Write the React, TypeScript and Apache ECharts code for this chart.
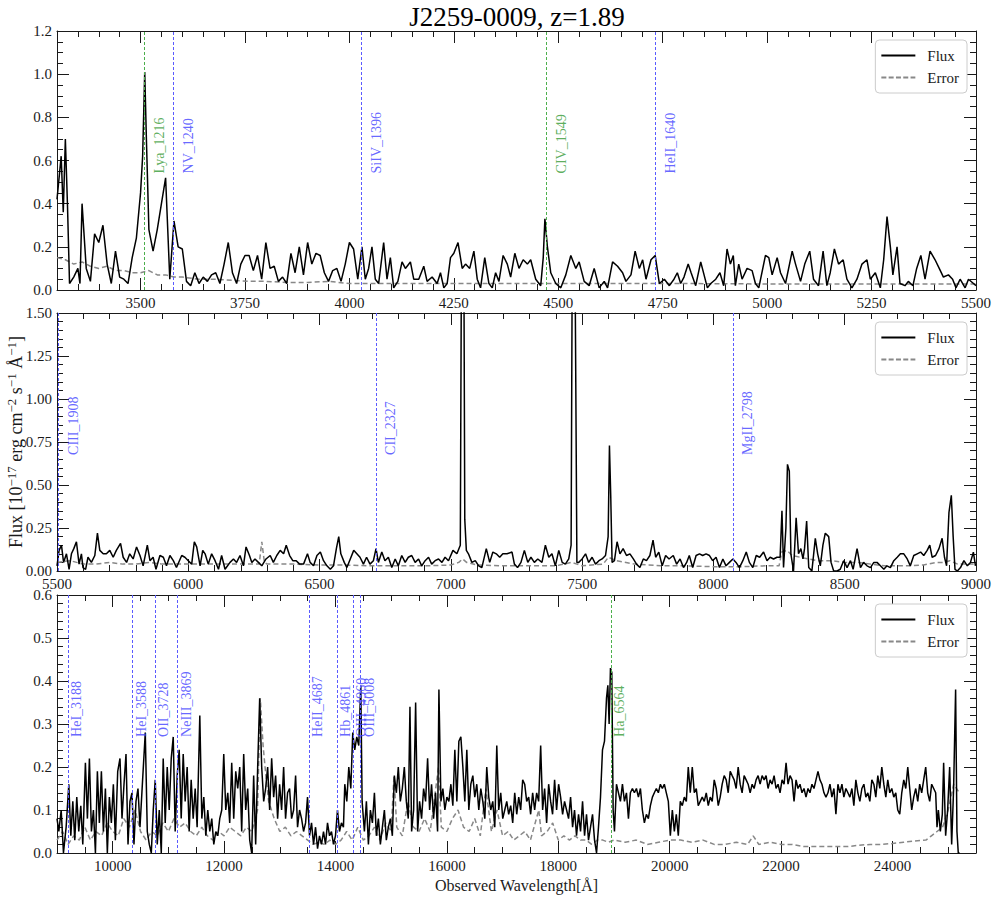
import React, { useEffect, useRef } from "react";
import * as echarts from "echarts";

// ---------------- data ----------------
const titleText = "J2259-0009, z=1.89";
const lineRedshift = 1.886;

const topXTicks = [3500, 3750, 4000, 4250, 4500, 4750, 5000, 5250, 5500];
const midXTicks = [5500, 6000, 6500, 7000, 7500, 8000, 8500, 9000];
const botXTicks = [10000, 12000, 14000, 16000, 18000, 20000, 22000, 24000];

const topLines: [string, number, string][] = [
  ["Lya_1216", 1216, "green"], ["NV_1240", 1240, "blue"], ["SiIV_1396", 1396, "blue"],
  ["CIV_1549", 1549, "green"], ["HeII_1640", 1640, "blue"],
];
const midLines: [string, number, string][] = [
  ["CIII_1908", 1908, "blue"], ["CII_2327", 2327, "blue"], ["MgII_2798", 2798, "blue"],
];
const botLines: [string, number, string][] = [
  ["HeI_3188", 3188, "blue"], ["HeI_3588", 3588, "blue"], ["OII_3728", 3728, "blue"],
  ["NeIII_3869", 3869, "blue"], ["HeII_4687", 4687, "blue"], ["Hb_4861", 4861, "blue"],
  ["OIII_4960", 4960, "blue"], ["OIII_5008", 5008, "blue"], ["Ha_6564", 6564, "green"],
];

const topFlux: [number, number][] = [
  [3300,0.42],[3310,0.62],[3315,0.36],[3320,0.70],[3325,0.40],[3330,0.03],[3340,0.06],[3350,0.10],[3355,0.03],[3360,0.40],
  [3370,0.10],[3380,0.04],[3390,0.26],[3400,0.22],[3410,0.30],[3420,0.12],[3430,0.03],[3440,0.18],[3450,0.06],[3460,0.05],
  [3470,0.03],[3480,0.15],[3490,0.24],[3500,0.45],[3505,0.62],[3510,1.01],[3514,0.70],[3520,0.28],[3530,0.18],[3540,0.28],
  [3550,0.40],[3560,0.52],[3570,0.05],[3580,0.32],[3590,0.20],[3600,0.19],[3610,0.04],[3620,0.02],[3630,0.08],[3640,0.03],
  [3650,0.06],[3660,0.04],[3670,0.07],[3680,0.08],[3690,0.03],[3700,0.12],[3710,0.22],[3720,0.08],[3730,0.03],[3740,0.12],
  [3750,0.16],[3760,0.16],[3770,0.09],[3780,0.16],[3790,0.05],[3800,0.22],[3810,0.10],[3820,0.11],[3830,0.04],[3840,0.06],
  [3850,0.03],[3860,0.17],[3870,0.08],[3880,0.20],[3890,0.07],[3900,0.22],[3910,0.12],[3920,0.17],[3930,0.16],[3940,0.08],
  [3950,0.04],[3960,0.09],[3970,0.10],[3980,0.04],[3990,0.12],[4000,0.22],[4010,0.19],[4020,0.05],
  [4030,0.20],[4038,0.05],[4046,0.10],[4054,0.20],[4062,0.05],[4070,0.03],[4082,0.22],[4090,0.05],[4098,0.15],[4106,0.01],
  [4116,0.04],[4126,0.13],[4134,0.10],[4146,0.13],[4154,0.05],[4166,0.05],[4178,0.11],[4186,0.04],[4198,0.06],[4210,0.03],
  [4218,0.08],[4226,0.01],[4234,0.03],[4242,0.15],[4250,0.17],[4260,0.22],[4270,0.10],[4278,0.12],[4288,0.10],[4298,0.18],
  [4306,0.05],[4314,0.01],[4324,0.15],[4334,0.03],[4342,0.01],[4350,0.08],[4358,0.04],[4368,0.16],[4378,0.12],[4386,0.06],
  [4396,0.17],[4406,0.10],[4416,0.14],[4426,0.12],[4434,0.14],[4446,0.05],[4458,0.02],[4464,0.15],[4468,0.33],[4474,0.20],
  [4482,0.08],[4494,0.03],[4506,0.01],[4518,0.07],[4530,0.16],[4542,0.10],[4550,0.13],[4562,0.04],[4574,0.02],[4586,0.10],
  [4598,0.01],[4610,0.04],[4618,0.01],[4630,0.13],[4642,0.11],[4654,0.08],[4662,0.04],[4674,0.07],[4684,0.18],[4694,0.10],
  [4702,0.14],[4710,0.05],[4722,0.14],[4732,0.16],[4742,0.03],[4754,0.05],[4766,0.02],
  [4777,0.05],[4785,0.08],[4793,0.03],[4801,0.06],[4811,0.12],[4818,0.08],[4829,0.02],[4841,0.13],[4849,0.07],[4857,0.01],
  [4865,0.03],[4877,0.05],[4887,0.08],[4896,0.02],[4904,0.19],[4912,0.12],[4919,0.16],[4924,0.02],[4932,0.12],[4940,0.05],
  [4952,0.10],[4964,0.09],[4972,0.03],[4980,0.01],[4996,0.16],[5004,0.15],[5012,0.07],[5024,0.15],[5032,0.08],[5044,0.03],
  [5060,0.18],[5068,0.12],[5080,0.04],[5090,0.12],[5102,0.18],[5111,0.05],[5123,0.02],[5134,0.18],[5143,0.02],[5151,0.08],
  [5161,0.19],[5171,0.12],[5182,0.14],[5191,0.05],[5203,0.01],[5215,0.05],[5227,0.12],[5239,0.14],[5247,0.05],[5259,0.08],
  [5271,0.01],[5279,0.14],[5287,0.34],[5295,0.20],[5301,0.07],[5311,0.20],[5318,0.03],[5330,0.02],[5338,0.04],[5349,0.02],
  [5358,0.10],[5368,0.16],[5378,0.05],[5390,0.18],[5402,0.14],[5412,0.10],[5422,0.06],[5434,0.07],[5444,0.05],[5452,0.01],
  [5462,0.05],[5474,0.01],[5482,0.05],[5494,0.03],[5500,0.02],
];

const topErr: [number, number][] = [
  [3300,0.15],[3320,0.14],[3340,0.12],[3360,0.13],[3380,0.11],[3400,0.10],[3420,0.11],[3440,0.09],[3460,0.09],[3480,0.08],
  [3500,0.08],[3520,0.09],[3540,0.07],[3560,0.07],[3580,0.06],[3600,0.06],[3640,0.05],[3680,0.05],[3720,0.045],[3760,0.04],
  [3800,0.04],[3850,0.035],[3900,0.035],[3950,0.04],[4000,0.03],[4100,0.03],[4200,0.03],[4300,0.03],[4400,0.03],[4500,0.03],
  [4600,0.03],[4700,0.03],[4800,0.03],[5000,0.028],[5200,0.028],[5500,0.028],
];

const midFlux: [number, number][] = [
  [5500,0.03],[5508,0.12],[5517,0.15],[5525,0.05],[5536,0.10],[5546,0.01],[5555,0.10],[5564,0.13],[5574,0.17],[5584,0.04],
  [5593,0.10],[5599,0.02],[5609,0.01],[5618,0.08],[5631,0.05],[5644,0.09],[5654,0.22],[5663,0.12],[5676,0.10],[5688,0.10],
  [5701,0.12],[5714,0.08],[5726,0.12],[5742,0.16],[5752,0.08],[5765,0.05],[5777,0.10],[5790,0.07],[5803,0.14],[5816,0.09],
  [5828,0.03],[5844,0.15],[5854,0.06],[5866,0.08],[5877,0.01],[5892,0.09],[5905,0.08],[5917,0.03],[5930,0.09],[5943,0.06],
  [5955,0.02],[5975,0.09],[5987,0.08],[6000,0.06],[6013,0.04],[6023,0.17],[6032,0.14],[6045,0.03],[6055,0.12],[6064,0.10],
  [6076,0.04],[6089,0.10],[6102,0.06],[6115,0.01],[6127,0.09],[6140,0.01],[6159,0.05],[6172,0.07],[6184,0.05],[6197,0.09],
  [6210,0.03],[6220,0.14],[6233,0.09],[6242,0.05],[6254,0.07],[6267,0.05],[6280,0.03],[6296,0.07],[6312,0.09],[6324,0.05],
  [6337,0.09],[6350,0.12],[6363,0.10],[6373,0.15],[6386,0.09],[6398,0.06],[6411,0.06],[6424,0.04],[6439,0.04],[6454,0.10],
  [6464,0.05],[6477,0.03],[6490,0.09],[6503,0.11],[6515,0.06],[6528,0.03],[6541,0.01],[6553,0.03],[6564,0.13],[6573,0.20],
  [6581,0.10],[6594,0.05],[6604,0.02],[6617,0.07],[6630,0.12],[6642,0.10],
  [6654,0.08],[6667,0.04],[6679,0.08],[6692,0.04],[6705,0.06],[6715,0.13],[6724,0.05],[6737,0.11],[6749,0.06],[6762,0.08],
  [6775,0.02],[6788,0.07],[6800,0.03],[6813,0.09],[6826,0.05],[6838,0.08],[6851,0.09],[6864,0.05],[6877,0.07],[6889,0.03],
  [6902,0.06],[6915,0.08],[6927,0.04],[6940,0.06],[6953,0.07],[6966,0.05],[6978,0.08],[6991,0.06],[7008,0.12],[7023,0.10],
  [7036,0.15],[7042,2.5],[7048,2.5],[7053,0.30],[7059,0.12],[7067,0.10],[7080,0.05],[7093,0.06],[7106,0.03],[7118,0.02],
  [7135,0.13],[7148,0.05],[7160,0.11],[7173,0.10],[7186,0.08],[7198,0.10],[7214,0.10],[7233,0.11],[7242,0.04],[7254,0.02],
  [7267,0.05],[7280,0.12],[7293,0.05],[7305,0.08],[7318,0.05],[7331,0.07],[7347,0.05],[7360,0.15],[7373,0.08],[7385,0.10],
  [7398,0.03],[7411,0.12],[7424,0.05],[7436,0.04],[7449,0.07],[7458,0.15],[7464,2.5],[7470,2.5],[7475,1.29],[7480,0.05],
  [7487,0.05],[7500,0.07],[7513,0.10],[7525,0.05],[7538,0.08],[7551,0.04],[7564,0.06],[7576,0.07],[7589,0.09],[7599,0.20],
  [7604,0.73],[7609,0.43],[7614,0.05],[7623,0.06],[7633,0.17],[7644,0.10],[7656,0.13],[7669,0.09],[7682,0.10],[7695,0.07],
  [7707,0.04],[7720,0.02],[7733,0.07],[7745,0.06],[7758,0.09],[7770,0.18],[7780,0.08],[7792,0.11],[7805,0.03],[7818,0.09],
  [7831,0.07],
  [7847,0.09],[7860,0.04],[7873,0.07],[7886,0.02],[7898,0.05],[7908,0.09],[7921,0.02],[7934,0.09],[7947,0.10],[7959,0.09],
  [7972,0.10],[7985,0.09],[7997,0.06],[8010,0.08],[8023,0.02],[8036,0.07],[8048,0.03],[8061,0.05],[8074,0.07],[8086,0.05],
  [8099,0.02],[8112,0.06],[8125,0.11],[8137,0.05],[8150,0.02],[8163,0.09],[8176,0.08],[8191,0.11],[8204,0.06],[8216,0.08],
  [8229,0.07],[8242,0.08],[8254,0.08],[8261,0.35],[8267,0.02],[8276,0.25],[8282,0.62],[8289,0.58],[8295,0.10],[8305,0.0],
  [8315,0.31],[8324,0.10],[8333,0.13],[8341,0.07],[8347,0.13],[8355,0.29],[8363,0.02],[8375,0.0],[8388,0.19],[8397,0.10],
  [8407,0.03],[8417,0.15],[8426,0.22],[8439,0.20],[8448,0.05],[8458,0.0],[8471,0.0],[8483,0.01],[8496,0.06],[8509,0.02],
  [8522,0.06],[8532,0.01],[8547,0.13],[8560,0.02],[8572,0.05],[8585,0.03],[8598,0.02],[8611,0.05],[8623,0.05],[8636,0.03],
  [8649,0.01],[8661,0.03],[8674,0.02],[8687,0.06],[8700,0.08],[8712,0.10],[8725,0.10],[8738,0.07],[8750,0.03],[8763,0.09],
  [8776,0.10],[8789,0.11],[8801,0.09],[8814,0.12],[8824,0.15],[8833,0.08],[8846,0.09],[8859,0.13],[8871,0.19],[8880,0.08],
  [8888,0.03],[8897,0.34],[8906,0.44],[8913,0.20],[8920,0.01],[8929,0.0],[8941,0.02],[8954,0.06],[8967,0.03],[8979,0.05],
  [8990,0.11],[8998,0.03],
];

const midErr: [number, number][] = [
  [5500,0.05],[5550,0.06],[5600,0.04],[5650,0.04],[5700,0.05],[5750,0.04],[5800,0.04],[5850,0.05],[5900,0.04],[6000,0.04],
  [6100,0.04],[6200,0.04],[6270,0.04],[6280,0.17],[6290,0.05],[6300,0.04],[6400,0.04],[6500,0.035],[6600,0.035],[6700,0.03],
  [6800,0.03],[6900,0.03],[7000,0.035],[7030,0.05],[7045,0.07],[7060,0.05],[7100,0.035],[7200,0.03],[7300,0.03],[7400,0.03],
  [7460,0.05],[7480,0.04],[7500,0.03],[7580,0.04],[7600,0.08],[7630,0.06],[7700,0.04],[7800,0.03],[7900,0.03],[8000,0.025],
  [8100,0.025],[8200,0.03],[8250,0.03],[8260,0.11],[8280,0.12],[8300,0.09],[8330,0.08],[8360,0.07],[8400,0.06],[8450,0.06],
  [8500,0.05],[8550,0.05],[8600,0.04],[8650,0.03],[8700,0.03],[8750,0.03],[8800,0.035],[8850,0.05],[8880,0.05],[8900,0.06],
  [8930,0.04],[9000,0.04],
];

const botFlux: [number, number][] = [
  [9000,0.08],[9033,0.05],[9075,0.10],[9116,0.0],[9164,0.06],[9212,0.16],[9248,0.04],[9284,0.12],[9319,0.03],[9355,0.13],
  [9391,0.05],[9427,0.11],[9463,0.02],[9510,0.21],[9546,0.08],[9582,0.22],[9618,0.05],[9654,0.10],[9690,0.0],[9725,0.19],
  [9761,0.07],[9797,0.19],[9833,0.05],[9869,0.15],[9904,0.0],[9940,0.13],[9976,0.07],[10012,0.16],[10048,0.03],[10090,0.19],
  [10131,0.22],[10167,0.08],[10203,0.16],[10239,0.23],[10275,0.02],[10310,0.12],[10346,0.14],[10382,0.02],[10418,0.12],[10454,0.15],
  [10490,0.06],[10537,0.17],[10585,0.28],[10621,0.05],[10657,0.02],[10693,0.0],[10728,0.10],[10764,0.17],[10800,0.02],[10836,0.10],
  [10872,0.0],[10907,0.22],[10943,0.07],[10979,0.20],[11015,0.10],[11051,0.22],[11087,0.27],[11122,0.05],[11158,0.18],[11194,0.24],
  [11230,0.08],[11266,0.23],[11301,0.12],[11337,0.20],[11373,0.05],[11409,0.17],[11445,0.08],[11481,0.15],[11516,0.06],[11564,0.32],
  [11600,0.08],[11636,0.13],[11672,0.04],[11707,0.10],[11743,0.05],[11779,0.08],[11815,0.02],[11851,0.05],[11887,0.04],[11922,0.08],
  [11958,0.10],[11994,0.23],[12030,0.10],[12066,0.14],[12101,0.07],[12137,0.21],[12173,0.08],[12209,0.19],[12245,0.15],[12281,0.20],
  [12316,0.05],[12352,0.23],[12388,0.10],[12424,0.15],[12460,0.03],[12495,0.0],[12531,0.18],[12567,0.02],[12603,0.20],[12639,0.36],
  [12675,0.20],[12711,0.12],[12746,0.15],[12782,0.20],[12818,0.10],[12854,0.22],[12890,0.13],[12925,0.18],[12961,0.08],[12997,0.16],
  [13033,0.10],[13069,0.20],[13104,0.08],[13140,0.14],[13176,0.15],[13212,0.08],[13248,0.10],[13284,0.18],[13319,0.06],[13355,0.10],
  [13391,0.08],[13427,0.05],[13463,0.07],[13498,0.13],[13534,0.04],[13570,0.07],[13606,0.02],[13642,0.06],[13678,0.01],[13713,0.04],
  [13749,0.02],[13785,0.05],[13821,0.02],[13857,0.07],[13893,0.04],[13928,0.05],[13964,0.02],[14000,0.04],[14036,0.10],[14072,0.05],
  [14107,0.07],[14143,0.06],[14167,0.16],[14203,0.12],[14239,0.20],[14275,0.15],[14310,0.28],[14346,0.24],[14382,0.27],[14418,0.25],
  [14454,0.39],
  [14478,0.12],[14519,0.05],[14555,0.12],[14591,0.02],[14627,0.10],[14663,0.07],[14699,0.14],[14734,0.04],[14770,0.08],[14806,0.02],
  [14842,0.06],[14878,0.10],[14913,0.03],[14949,0.06],[14985,0.08],[15021,0.04],[15057,0.18],[15093,0.14],[15128,0.20],[15164,0.12],
  [15200,0.15],[15236,0.20],[15272,0.12],[15307,0.08],[15337,0.34],[15367,0.05],[15403,0.10],[15439,0.35],[15475,0.05],[15510,0.12],
  [15546,0.08],[15582,0.15],[15618,0.12],[15654,0.22],[15690,0.10],[15725,0.16],[15761,0.08],[15797,0.14],[15833,0.05],[15857,0.38],
  [15893,0.12],[15928,0.15],[15964,0.10],[16000,0.13],[16036,0.12],[16072,0.16],[16107,0.11],[16143,0.24],[16179,0.12],[16215,0.26],
  [16251,0.27],[16287,0.20],[16322,0.12],[16358,0.24],[16394,0.10],[16430,0.16],[16466,0.18],[16501,0.13],[16537,0.16],[16573,0.10],
  [16609,0.15],[16645,0.12],[16681,0.08],[16716,0.20],[16752,0.13],[16788,0.10],[16824,0.12],[16860,0.06],[16896,0.25],[16931,0.10],
  [16967,0.14],[17003,0.08],[17039,0.10],[17075,0.12],[17110,0.09],[17146,0.11],[17182,0.07],[17218,0.14],[17254,0.09],[17290,0.13],
  [17325,0.10],[17361,0.17],[17397,0.16],[17433,0.12],[17469,0.13],[17504,0.09],[17540,0.14],[17576,0.10],[17612,0.14],[17648,0.12],
  [17684,0.25],[17719,0.10],[17755,0.15],[17791,0.07],[17827,0.16],[17863,0.12],[17898,0.09],[17934,0.17],[17970,0.10],[18006,0.16],
  [18042,0.13],[18078,0.09],[18113,0.12],[18149,0.10],[18185,0.08],[18221,0.13],[18257,0.06],[18292,0.10],[18328,0.04],[18364,0.09],
  [18400,0.05],[18436,0.12],[18472,0.04],[18507,0.09],[18543,0.03],[18579,0.06],[18615,0.09],[18651,0.03],[18687,0.0],[18722,0.06],
  [18758,0.13],[18794,0.24],[18830,0.26],[18866,0.36],[18890,0.39],[18913,0.30],[18937,0.43],[18961,0.42],[18985,0.10],[19009,0.05],
  [19045,0.16],[19081,0.14],[19116,0.12],[19152,0.16],[19188,0.12],[19224,0.14],[19260,0.08],[19295,0.14],[19331,0.15],[19367,0.14],
  [19403,0.15],[19439,0.13],[19475,0.15],[19510,0.10],[19546,0.07],[19582,0.09],[19618,0.08],[19654,0.11],[19690,0.13],[19725,0.14],
  [19761,0.15],[19797,0.14],[19833,0.16],[19869,0.15],[19904,0.16],[19940,0.14],[19976,0.12],
  [20012,0.04],[20048,0.10],[20084,0.05],[20119,0.09],[20155,0.04],[20191,0.12],[20227,0.11],[20263,0.13],[20299,0.12],[20334,0.20],
  [20370,0.14],[20406,0.20],[20442,0.14],[20478,0.15],[20513,0.11],[20549,0.12],[20585,0.13],[20621,0.12],[20657,0.14],[20693,0.11],
  [20728,0.13],[20764,0.12],[20800,0.17],[20836,0.15],[20872,0.11],[20907,0.13],[20943,0.16],[20979,0.18],[21015,0.17],[21051,0.14],
  [21087,0.19],[21122,0.18],[21158,0.17],[21194,0.15],[21230,0.20],[21266,0.16],[21301,0.14],[21337,0.18],[21373,0.17],[21409,0.16],
  [21445,0.14],[21481,0.16],[21516,0.15],[21552,0.17],[21588,0.18],[21624,0.16],[21660,0.18],[21696,0.17],[21731,0.18],[21767,0.15],
  [21803,0.17],[21839,0.16],[21875,0.18],[21910,0.15],[21946,0.16],[21982,0.14],[22018,0.17],[22054,0.16],[22090,0.21],[22125,0.16],
  [22161,0.18],[22197,0.17],[22233,0.12],[22269,0.17],[22304,0.15],[22340,0.16],[22376,0.14],[22412,0.15],[22448,0.13],[22484,0.15],
  [22519,0.14],[22555,0.16],[22591,0.15],[22627,0.17],[22663,0.19],[22698,0.17],[22734,0.16],[22770,0.14],[22806,0.13],[22842,0.14],
  [22878,0.16],[22913,0.13],[22949,0.15],[22985,0.09],[23021,0.16],[23057,0.14],[23093,0.16],[23128,0.13],[23164,0.15],[23200,0.14],
  [23236,0.13],[23272,0.15],[23307,0.11],[23343,0.17],[23379,0.14],[23415,0.12],[23451,0.15],[23487,0.16],[23522,0.13],[23558,0.14],
  [23594,0.12],[23630,0.17],[23666,0.16],[23701,0.13],[23737,0.18],[23773,0.15],[23809,0.20],[23845,0.16],[23881,0.13],[23916,0.17],
  [23952,0.14],[23988,0.15],[24024,0.13],[24060,0.14],[24095,0.10],[24131,0.09],[24167,0.14],[24203,0.17],[24239,0.15],[24275,0.20],
  [24310,0.15],[24346,0.10],[24382,0.13],[24418,0.15],[24454,0.12],[24489,0.16],[24525,0.14],[24561,0.17],[24597,0.20],[24633,0.14],
  [24669,0.12],[24704,0.16],[24740,0.15],[24776,0.14],[24800,0.06],[24824,0.10],[24860,0.05],[24895,0.09],[24919,0.21],[24955,0.04],
  [24991,0.10],[25027,0.20],[25063,0.02],[25098,0.15],[25134,0.38],[25158,0.05],[25182,0.0],[25206,0.0],
];

const botErr: [number, number][] = [
  [9000,0.03],[9100,0.05],[9200,0.02],[9300,0.04],[9400,0.03],[9500,0.06],[9600,0.03],[9700,0.05],[9800,0.04],[9900,0.07],
  [10000,0.05],[10100,0.04],[10200,0.08],[10300,0.06],[10400,0.10],[10500,0.05],[10600,0.03],[10700,0.05],[10800,0.04],[10900,0.07],
  [11000,0.05],[11100,0.08],[11200,0.06],[11300,0.07],[11400,0.05],[11500,0.04],[11600,0.06],[11700,0.04],[11800,0.03],[11900,0.05],
  [12000,0.04],[12100,0.06],[12200,0.05],[12300,0.04],[12400,0.06],[12500,0.05],[12600,0.10],[12650,0.36],[12700,0.25],[12750,0.18],
  [12800,0.12],[12900,0.08],[13000,0.05],[13100,0.06],[13200,0.04],[13300,0.05],[13400,0.04],[13500,0.03],[13600,0.02],[13700,0.025],
  [13800,0.02],[13900,0.03],[14000,0.02],[14100,0.03],[14200,0.05],[14300,0.03],[14400,0.06],[14500,0.03],[14600,0.04],[14700,0.06],
  [14800,0.03],[14900,0.07],[15000,0.05],[15050,0.18],[15100,0.06],[15200,0.04],[15300,0.12],[15400,0.06],[15500,0.05],[15600,0.08],
  [15700,0.05],[15850,0.20],[15900,0.06],[16000,0.05],[16100,0.08],[16200,0.10],[16300,0.06],[16400,0.05],[16500,0.08],[16600,0.04],
  [16700,0.15],[16800,0.05],[16900,0.10],[17000,0.04],[17100,0.05],[17200,0.03],[17300,0.04],[17400,0.05],[17500,0.03],[17650,0.10],
  [17700,0.04],[17800,0.05],[17900,0.07],[18000,0.03],[18100,0.04],[18200,0.03],[18300,0.04],[18400,0.03],[18500,0.03],[18600,0.02],
  [18700,0.03],[18800,0.03],[18900,0.025],[19000,0.03],[19200,0.025],[19400,0.03],[19600,0.02],[19800,0.025],[20000,0.03],[20200,0.03],
  [20400,0.025],[20600,0.03],[20800,0.02],[21000,0.02],[21200,0.025],[21400,0.02],[21500,0.04],[21600,0.02],[21800,0.025],[22000,0.02],
  [22200,0.02],[22400,0.015],[22600,0.015],[22800,0.015],[23000,0.015],[23200,0.015],[23400,0.018],[23600,0.02],[23800,0.02],[24000,0.022],
  [24200,0.025],[24400,0.028],[24600,0.03],[24700,0.04],[24800,0.05],[24900,0.06],[25000,0.10],[25100,0.16],[25200,0.14],
];

// ---------------- styling / layout ----------------
const SERIF = "'Liberation Serif', 'DejaVu Serif', serif";
const INK = "#1a1a1a";
const LINE_COLORS: Record<string, string> = { blue: "#5a5aff", green: "#4caf4c" };
const TEXT_COLORS: Record<string, string> = { blue: "#4040ff", green: "#339933" };
const SOLID_ICON = "path://M0 0H34V2H0Z";
const DASH_ICON = "path://M0 0H5V2H0Z M7.3 0H12.3V2H7.3Z M14.6 0H19.6V2H14.6Z M21.9 0H26.9V2H21.9Z M29.2 0H34V2H29.2Z";

type Panel = {
  top: number; height: number; xMin: number; xMax: number; xTicks: number[]; xMinorStep: number;
  yMax: number; yInterval: number; yMinorSplit: number; yDigits: number;
  flux: [number, number][]; err: [number, number][]; lines: [string, number, string][]; labelOffset: number;
};

const panels: Panel[] = [
  { top: 31, height: 259, xMin: 3300, xMax: 5500, xTicks: topXTicks, xMinorStep: 50, yMax: 1.2, yInterval: 0.2, yMinorSplit: 4, yDigits: 1, flux: topFlux, err: topErr, lines: topLines, labelOffset: 20 },
  { top: 313, height: 258, xMin: 5500, xMax: 9000, xTicks: midXTicks, xMinorStep: 100, yMax: 1.5, yInterval: 0.25, yMinorSplit: 5, yDigits: 2, flux: midFlux, err: midErr, lines: midLines, labelOffset: 28 },
  { top: 595, height: 258, xMin: 9000, xMax: 25500, xTicks: botXTicks, xMinorStep: 500, yMax: 0.6, yInterval: 0.1, yMinorSplit: 5, yDigits: 1, flux: botFlux, err: botErr, lines: botLines, labelOffset: 30 },
];

function minorValues(p: Panel): number[] {
  const out: number[] = [];
  for (let v = p.xMin; v <= p.xMax + 1e-6; v += p.xMinorStep) {
    if (!p.xTicks.includes(v)) out.push(v);
  }
  return out;
}

function buildOption() {
  const grid: any[] = [];
  const xAxis: any[] = [];
  const yAxis: any[] = [];
  const series: any[] = [];
  const legend: any[] = [];
  const tickLine = { color: INK, width: 1 };

  panels.forEach((p, i) => {
    grid.push({ left: 57, right: 21, top: p.top, height: p.height, containLabel: false, outerBoundsMode: "none" });
    const minors = minorValues(p);
    const baseX = { type: "value", gridIndex: i, min: p.xMin, max: p.xMax, splitLine: { show: false } };
    xAxis.push({
      ...baseX, position: "bottom",
      axisLine: { show: true, onZero: false, lineStyle: { color: INK, width: 1 } },
      axisTick: { show: true, inside: true, length: 12, customValues: p.xTicks, lineStyle: tickLine },
      axisLabel: { show: true, customValues: p.xTicks, margin: 5, fontSize: 15, fontFamily: SERIF, color: INK, formatter: (v: number) => String(v) },
      name: i === 2 ? "Observed Wavelength[Å]" : "",
      nameLocation: "middle", nameGap: 24, nameMoveOverlap: false,
      nameTextStyle: { fontSize: 16, fontFamily: SERIF, color: INK },
    });
    xAxis.push({
      ...baseX, position: "bottom",
      axisLine: { show: false, onZero: false },
      axisTick: { show: true, inside: true, length: 6, customValues: minors, lineStyle: tickLine },
      axisLabel: { show: false },
    });
    xAxis.push({
      ...baseX, position: "top",
      axisLine: { show: true, onZero: false, lineStyle: { color: INK, width: 1 } },
      axisTick: { show: true, inside: true, length: 12, customValues: p.xTicks, lineStyle: tickLine },
      axisLabel: { show: false },
    });
    xAxis.push({
      ...baseX, position: "top",
      axisLine: { show: false, onZero: false },
      axisTick: { show: true, inside: true, length: 6, customValues: minors, lineStyle: tickLine },
      axisLabel: { show: false },
    });

    const baseY = {
      type: "value", gridIndex: i, min: 0, max: p.yMax, interval: p.yInterval,
      splitLine: { show: false }, minorSplitLine: { show: false },
      axisLine: { show: true, onZero: false, lineStyle: { color: INK, width: 1 } },
      axisTick: { show: true, inside: true, length: 12, lineStyle: tickLine },
      minorTick: { show: true, splitNumber: p.yMinorSplit, length: 6, lineStyle: tickLine },
    };
    yAxis.push({
      ...baseY, position: "left",
      axisLabel: { show: true, margin: 5, fontSize: 15, fontFamily: SERIF, color: INK, formatter: (v: number) => v.toFixed(p.yDigits) },
      name: i === 1 ? "{a|Flux [10}{s|−17}{a| erg cm}{s|−2}{a| s}{s|−1}{a| Å}{s|−1}{a|]}" : "",
      nameLocation: "middle", nameGap: 30, nameRotate: 90, nameMoveOverlap: false,
      nameTextStyle: {
        color: INK, fontFamily: SERIF,
        rich: {
          a: { fontSize: 18, fontFamily: SERIF, color: INK, lineHeight: 22, verticalAlign: "middle" },
          s: { fontSize: 13, fontFamily: SERIF, color: INK, lineHeight: 13, verticalAlign: "top" },
        },
      },
    });
    yAxis.push({ ...baseY, position: "right", axisLabel: { show: false } });

    const labelY = 0.45 * p.yMax;
    series.push({
      type: "line", name: "Flux", xAxisIndex: 4 * i, yAxisIndex: 2 * i,
      data: p.flux, symbol: "none", showSymbol: false, silent: true, z: 3,
      lineStyle: { color: "#000", width: 1.5 }, itemStyle: { color: "#000" },
      markLine: {
        silent: true, symbol: ["none", "none"], label: { show: false }, animation: false,
        data: p.lines.map(([, rest, c]) => ({
          xAxis: rest * (1 + lineRedshift),
          lineStyle: { color: LINE_COLORS[c], width: 1, type: [3, 2], opacity: 1 },
        })),
      },
    });
    series.push({
      type: "line", name: "Error", xAxisIndex: 4 * i, yAxisIndex: 2 * i,
      data: p.err, symbol: "none", showSymbol: false, silent: true, z: 2,
      lineStyle: { color: "#888888", width: 1.5, type: [5, 3] }, itemStyle: { color: "#888888" },
    });
    series.push({
      type: "scatter", name: "labels" + i, xAxisIndex: 4 * i, yAxisIndex: 2 * i,
      symbolSize: 0, silent: true, z: 4,
      data: p.lines.map(([name, rest, c]) => ({
        name, value: [rest * (1 + lineRedshift) + p.labelOffset, labelY],
        label: { color: TEXT_COLORS[c] },
      })),
      label: {
        show: true, formatter: "{b}", rotate: 90, position: [0, 0], align: "left", verticalAlign: "top",
        fontSize: 14, fontFamily: SERIF,
      },
    });

    legend.push({
      show: true, orient: "vertical", right: 30, top: p.top + 9,
      data: [
        { name: "Flux", icon: SOLID_ICON, itemStyle: { color: "#000" } },
        { name: "Error", icon: DASH_ICON, itemStyle: { color: "#888888" } },
      ],
      itemWidth: 34, itemHeight: 2, itemGap: 7, padding: [8, 8, 8, 6],
      borderColor: "#cccccc", borderWidth: 1, borderRadius: 4, backgroundColor: "#ffffff",
      selectedMode: false,
      textStyle: { fontSize: 15, fontFamily: SERIF, color: INK, padding: [0, 0, 0, 7] },
    });
  });

  return {
    animation: false,
    backgroundColor: "#ffffff",
    textStyle: { fontFamily: SERIF },
    grid, xAxis, yAxis, series, legend,
    graphic: [
      {
        type: "text", x: 517, y: 17, silent: true,
        style: { text: titleText, fontSize: 27, fontFamily: SERIF, fill: "#000", align: "center", verticalAlign: "middle" },
      },
    ],
  };
}

export default function App() {
  const ref = useRef<HTMLDivElement>(null);
  useEffect(() => {
    document.body.style.margin = "0";
    const chart = echarts.init(ref.current as HTMLDivElement, undefined, { renderer: "svg" });
    chart.setOption(buildOption() as any);
    return () => chart.dispose();
  }, []);
  return <div ref={ref} style={{ width: 997, height: 898 }} />;
}
